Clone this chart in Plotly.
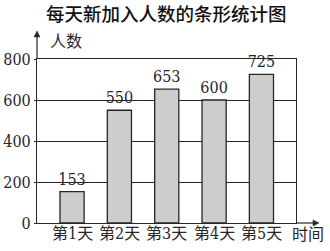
import plotly.graph_objects as go

categories = ["第1天", "第2天", "第3天", "第4天", "第5天"]
values = [153, 550, 653, 600, 725]
y_ticks = [0, 200, 400, 600, 800]

serif = "DejaVu Serif Condensed, DejaVu Serif, Noto Sans CJK SC"
ink = "#262626"

fig = go.Figure()
fig.add_trace(go.Bar(
    x=list(range(len(categories))), y=values,
    width=0.51,
    marker=dict(color="#cdcdcd", line=dict(color=ink, width=1.3)),
    text=[str(v) for v in values], textposition="outside",
    textfont=dict(family=serif, size=16, color=ink),
    constraintext="none",
    cliponaxis=False,
))

# category labels placed on the x scale
label_annotations = [
    dict(text=c, xref="x", yref="paper", x=i, y=(223 - 233) / 164,
         showarrow=False, xanchor="center", yanchor="middle",
         font=dict(family=serif, size=16, color=ink))
    for i, c in enumerate(categories)
]

fig.update_layout(
    width=330, height=251,
    margin=dict(l=37, r=34, t=59, b=28, autoexpand=False),
    paper_bgcolor="white", plot_bgcolor="white",
    showlegend=False,
    xaxis=dict(
        range=[-0.74, 4.73], automargin=False,
        showticklabels=False,
        showgrid=False, zeroline=False,
        showline=True, linecolor=ink, linewidth=1.2, mirror=True,
        ticks="",
    ),
    yaxis=dict(
        range=[0, 800], automargin=False,
        tickmode="array", tickvals=y_ticks,
        tickfont=dict(family=serif, size=16, color=ink),
        showgrid=True, gridcolor=ink, gridwidth=1.1,
        zeroline=False,
        showline=True, linecolor=ink, linewidth=1.2, mirror=True,
        ticks="outside", ticklen=2, tickcolor=ink,
    ),
    annotations=label_annotations + [
        dict(text="每天新加入人数的条形统计图", xref="paper", yref="paper",
             x=(166 - 37) / 259, y=(223 - 13) / 164, showarrow=False,
             xanchor="center", yanchor="middle",
             font=dict(family="Noto Sans CJK SC", size=18.5, color="#111", weight=500)),
        dict(text="人数", xref="paper", yref="paper",
             x=(66 - 37) / 259, y=(223 - 40) / 164, showarrow=False,
             xanchor="center", yanchor="middle",
             font=dict(family="Noto Sans CJK SC", size=16, color=ink)),
        dict(text="时间", xref="paper", yref="paper",
             x=(308 - 37) / 259, y=(223 - 233) / 164, showarrow=False,
             xanchor="center", yanchor="middle",
             font=dict(family="Noto Sans CJK SC", size=16, color=ink)),
    ],
    shapes=[
        dict(type="line", xref="paper", yref="paper", x0=0, x1=0, y0=1, y1=(223 - 34) / 164,
             line=dict(color=ink, width=1.2)),
        dict(type="path", xref="paper", yref="paper",
             path=f"M 0 {(223-31)/164} L {-3/259} {(223-37)/164} L {3/259} {(223-37)/164} Z",
             fillcolor=ink, line=dict(color=ink, width=0.5)),
        dict(type="line", xref="paper", yref="paper", x0=1, x1=(316 - 37) / 259, y0=0, y1=0,
             line=dict(color=ink, width=1.2)),
        dict(type="path", xref="paper", yref="paper",
             path=f"M {(319-37)/259} 0 L {(313-37)/259} {3/164} L {(313-37)/259} {-3/164} Z",
             fillcolor=ink, line=dict(color=ink, width=0.5)),
    ],
)

fig.write_html("out.html")
